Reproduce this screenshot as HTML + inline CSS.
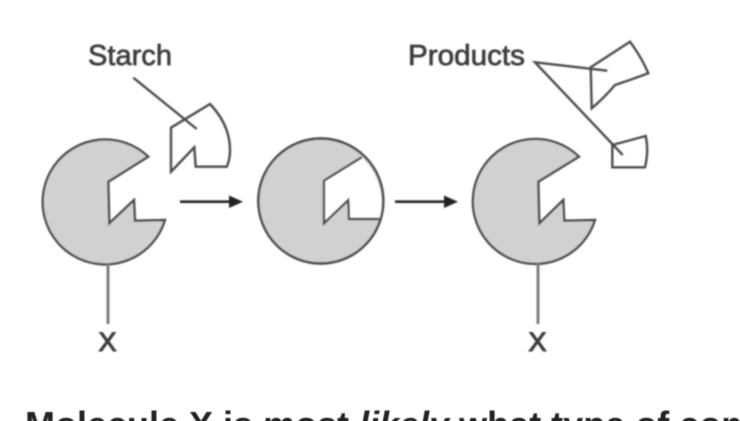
<!DOCTYPE html>
<html>
<head>
<meta charset="utf-8">
<style>
html,body{margin:0;padding:0;background:#fff;width:740px;height:421px;overflow:hidden}
svg{display:block}
text{font-family:"Liberation Sans",sans-serif}
</style>
</head>
<body>
<svg width="740" height="421" viewBox="0 0 740 421" xmlns="http://www.w3.org/2000/svg">
<defs>
<filter id="b" x="-5%" y="-5%" width="110%" height="110%"><feGaussianBlur stdDeviation="0.8"/></filter>
<filter id="c" x="-5%" y="-5%" width="110%" height="110%"><feGaussianBlur stdDeviation="0.4"/></filter>
</defs>
<g filter="url(#b)">
<g fill="none" stroke="#4c4c4c" stroke-width="2.4" stroke-linejoin="miter">
<!-- enzyme 1 -->
<path fill="#d1d1d3" d="M148.3 156.7A62.5 62.5 0 1 0 165 220L135 220.7L134 200L109.3 223.3L108.3 181.7Z"/>
<line x1="108" y1="263" x2="108" y2="324" stroke="#777" stroke-width="2.8"/>
<!-- starch -->
<path d="M171 127.7L210 104Q230 125 230 150Q230 160 226.7 166.7L195.7 166.7L194.3 147.3L171 171.7Z"/>
<line x1="133.3" y1="77.7" x2="196.7" y2="129"/>
<!-- enzyme 2 -->
<circle cx="320.8" cy="201" r="62.5" fill="#d1d1d3"/>
<path fill="#fff" stroke="none" d="M361.7 157.3L324 180.7L324 223.3L348.3 200L349 219L379.3 219A62.5 62.5 0 0 0 361.7 157.3Z"/>
<path d="M361.7 157.3L324 180.7L324 223.3L348.3 200L349 219L379.3 219"/>
<circle cx="320.8" cy="201" r="62.5"/>
<!-- enzyme 3 -->
<path fill="#d1d1d3" d="M579 156.7A62.5 62.5 0 1 0 595 220L564.3 220.7L563.3 200L539.3 223.3L538.3 181.7Z"/>
<line x1="538" y1="263" x2="538" y2="324" stroke="#777" stroke-width="2.8"/>
<!-- products -->
<path d="M591.7 108.3L590.7 67.3L630 41.7Q642 58 648.3 73.3Q630 80 615 85Q604 98 591.7 108.3Z"/>
<path d="M612.3 145L645.7 136Q649 150 645 167.3L612.3 167.3Z"/>
<path d="M607.3 70.7L535 62.3L622.7 155"/>
</g>
<!-- arrows -->
<g stroke="#222" stroke-width="2.6">
<line x1="180" y1="201.7" x2="232" y2="201.7"/>
<line x1="395" y1="201.7" x2="447" y2="201.7"/>
</g>
<path d="M229 195.5L243 201.7L229 208Z" fill="#222"/>
<path d="M444 195.5L458 201.7L444 208Z" fill="#222"/>
<g fill="#3c3c3c" stroke="#3c3c3c" stroke-width="0.7" font-size="28.5">
<text x="88" y="65" textLength="84" lengthAdjust="spacingAndGlyphs">Starch</text>
<text x="408" y="65" textLength="117" lengthAdjust="spacingAndGlyphs">Products</text>
<text x="98.5" y="351" font-size="27" stroke-width="1.1">X</text>
<text x="528.5" y="351" font-size="27" stroke-width="1.1">X</text>
</g>
</g>
<text filter="url(#c)" x="25" y="437" font-size="36" font-weight="700" fill="#222">Molecule X is most <tspan font-style="italic">likely</tspan> what type of compound</text>
</svg>
</body>
</html>
